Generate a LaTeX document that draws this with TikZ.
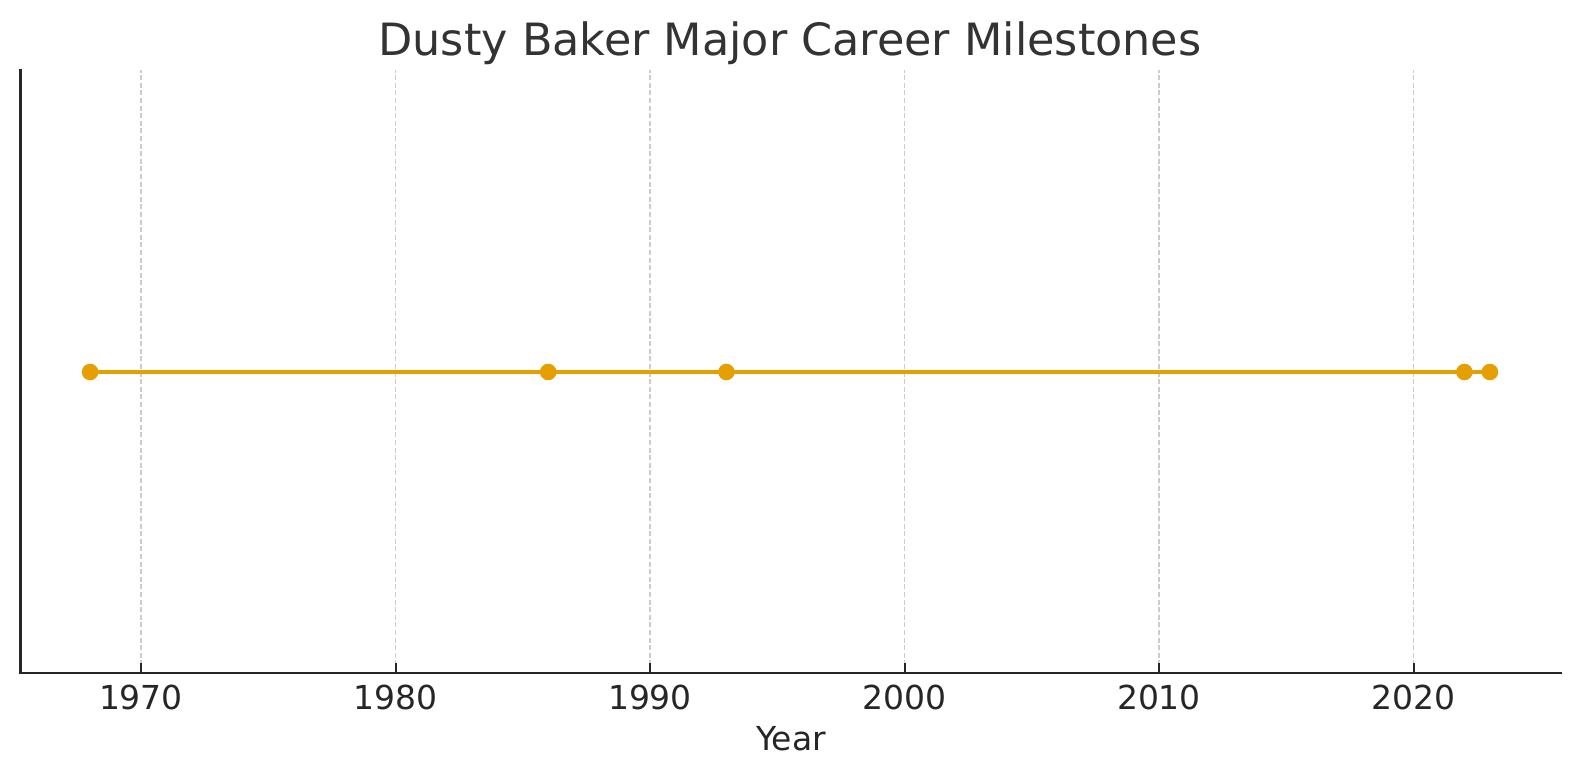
\documentclass[tikz,border=0pt]{standalone}
\usepackage{fontspec}
\setmainfont{DejaVu Sans}
\definecolor{milestone}{HTML}{E69F00}
\definecolor{axisgray}{HTML}{262626}
\definecolor{gridgray}{HTML}{CCCCCC}
\definecolor{titlegray}{HTML}{333333}
\tikzset{
  axisline/.style={draw=axisgray, line width=2.6pt},
  gridline/.style={draw=gridgray, line width=1.4pt, dash pattern=on 5pt off 2.6pt},
  yeardot/.style={circle, fill=milestone, inner sep=0pt, minimum size=16.6pt},
  ticklabel/.style={text=axisgray, font=\fontsize{33}{40}\selectfont},
}
\begin{document}
\begin{tikzpicture}[x=1pt, y=1pt]
\useasboundingbox (0,0) rectangle (1580,780);
% grid and ticks
\foreach \yr/\px in {1970/141, 1980/395.5, 1990/650, 2000/904.5, 2010/1159, 2020/1413.5} {
  \draw[gridline] (\px,107) -- (\px,710);
  \draw[axisline, line width=2pt] (\px,107) -- (\px,117);
  \node[ticklabel] (tick\yr) at (\px,83) {\yr};
}
% axes
\coordinate (origin) at (20.5,107);
\coordinate (ytop) at (20.5,710);
\coordinate (xend) at (1561,107);
\draw[axisline, line cap=rect] (ytop) -- (origin) -- (xend);
% milestones
\node[yeardot] (y1968) at (90.1,408) {};
\node[yeardot] (y1986) at (548.2,408) {};
\node[yeardot] (y1993) at (726.4,408) {};
\node[yeardot] (y2022) at (1464.4,408) {};
\node[yeardot] (y2023) at (1489.9,408) {};
\draw[milestone, line width=4pt] (y1968.center) -- (y1986.center) -- (y1993.center) -- (y2022.center) -- (y2023.center);
% labels
\node[ticklabel] (xlabel) at (791,41) {Year};
\node[text=titlegray, font=\fontsize{44.5}{52}\selectfont] (title) at (790,737) {Dusty Baker Major Career Milestones};
\end{tikzpicture}
\end{document}
